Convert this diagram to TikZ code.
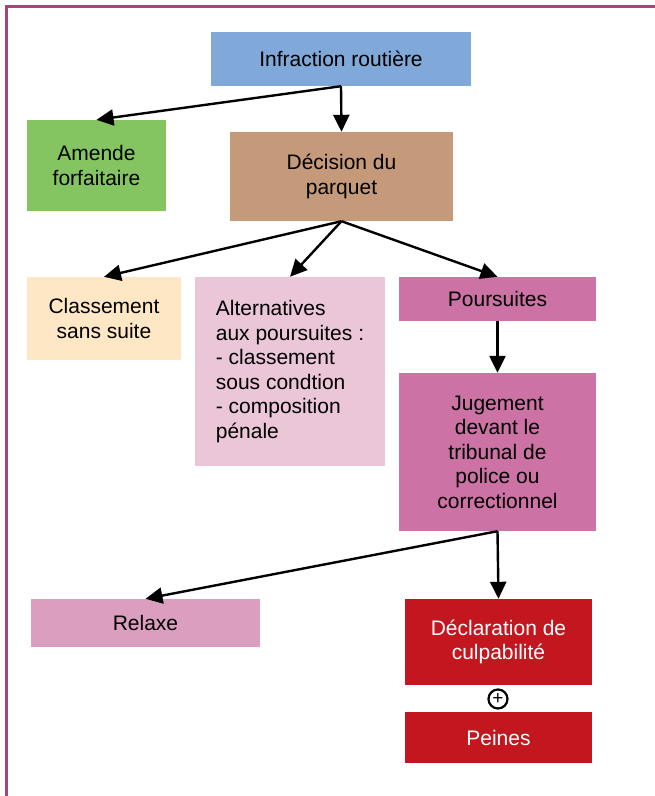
\documentclass[tikz,border=0pt]{standalone}
\usepackage{fontspec}
\setmainfont{Liberation Sans}
\usepackage{xcolor}
\usetikzlibrary{arrows.meta, positioning}
\definecolor{framecolor}{RGB}{158, 72, 128}
\definecolor{infracolor}{RGB}{128, 168, 216}
\definecolor{amendecolor}{RGB}{132, 197, 98}
\definecolor{parquetcolor}{RGB}{196, 154, 122}
\definecolor{classcolor}{RGB}{253, 231, 196}
\definecolor{altercolor}{RGB}{234, 198, 216}
\definecolor{poursuitecolor}{RGB}{204, 114, 165}
\definecolor{relaxecolor}{RGB}{220, 158, 190}
\definecolor{peinecolor}{RGB}{196, 22, 30}

\begin{document}
\begin{tikzpicture}[
  x=1pt, y=-1pt,
  font=\fontsize{21}{24.5}\selectfont,
  box/.style={rectangle, fill=#1, align=center, inner sep=0pt},
  arrow/.style={-{Triangle[length=17pt, width=16pt]}, line width=2.4pt, color=black},
]
\useasboundingbox (0,0) rectangle (655,796);

% Frame
\draw[framecolor, line width=3pt] (6,800) -- (6,6) -- (660,6);

% Nodes
\node[box=infracolor, minimum width=260pt, minimum height=54pt]
  (infraction) at (341,59) {Infraction routière};
\node[box=amendecolor, minimum width=139pt, minimum height=91pt]
  (amende) at (96.5,165.5) {Amende\\forfaitaire};
\node[box=parquetcolor, minimum width=223pt, minimum height=89pt]
  (decision) at (341.5,176.5) {Décision du\\parquet};
\node[box=classcolor, minimum width=154pt, minimum height=83pt]
  (classement) at (104,318.5) {Classement\\sans suite};
\node[box=altercolor, minimum width=190pt, minimum height=189pt, align=left]
  (alternatives) at (290,371.5) {Alternatives\\aux poursuites :\\- classement\\sous condtion\\- composition\\pénale};
\node[box=poursuitecolor, minimum width=197pt, minimum height=44pt]
  (poursuites) at (497.5,299) {Poursuites};
\node[box=poursuitecolor, minimum width=197pt, minimum height=158pt]
  (jugement) at (497.5,452) {Jugement\\devant le\\tribunal de\\police ou\\correctionnel};
\node[box=relaxecolor, minimum width=229pt, minimum height=48pt]
  (relaxe) at (145.5,623) {Relaxe};
\node[box=peinecolor, text=white, minimum width=187pt, minimum height=86pt]
  (culpabilite) at (498.5,642) {Déclaration de\\culpabilité};
\node[box=peinecolor, text=white, minimum width=187pt, minimum height=51pt]
  (peines) at (498.5,737.5) {Peines};
\node[circle, draw, line width=2.2pt, minimum size=19pt, inner sep=0pt,
      font=\fontsize{19}{19}\selectfont] (plus) at (498,699) {+};

% Arrows
\draw[arrow] (infraction.south) -- (amende.north);
\draw[arrow] (infraction.south) -- (decision.north);
\draw[arrow] (decision.south) -- (classement.north);
\draw[arrow] (decision.south) -- (alternatives.north);
\draw[arrow] (decision.south) -- (poursuites.north);
\draw[arrow] (poursuites.south) -- (jugement.north);
\draw[arrow] (jugement.south) -- (relaxe.north);
\draw[arrow] (jugement.south) -- (culpabilite.north);

\end{tikzpicture}
\end{document}
